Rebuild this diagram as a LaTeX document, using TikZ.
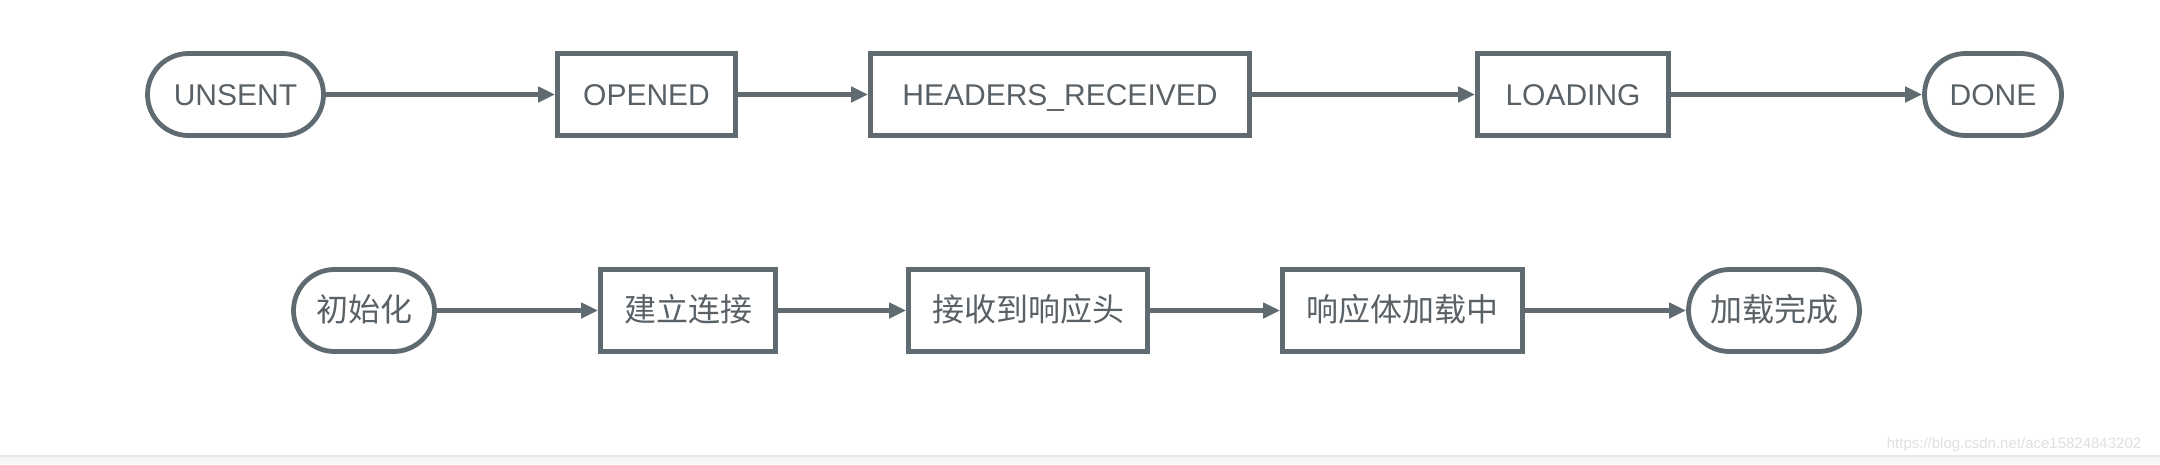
\documentclass[tikz,border=0pt]{standalone}
\usepackage{fontspec}
\setmainfont{Liberation Sans}
\newfontfamily\cjk{Noto Sans CJK SC}
\usetikzlibrary{arrows.meta}
\definecolor{edgec}{HTML}{5F6A71}
\definecolor{txtc}{HTML}{5A6166}
\definecolor{bandc}{HTML}{F6F6F6}
\definecolor{bandl}{HTML}{E8E8E8}
\definecolor{wmc}{HTML}{E0E0E0}
\begin{document}
\begin{tikzpicture}[x=1pt,y=-1pt,
  stepbox/.style={draw=edgec, line width=4.8pt, rectangle, minimum height=82pt, inner sep=0pt, text=txtc, font=\fontsize{30}{30}\selectfont, text height=21.5pt, text depth=0pt},
  termbox/.style={stepbox, rounded corners=41pt},
  cjkstep/.style={stepbox, font=\cjk\fontsize{32}{32}\selectfont, text height=25pt, text depth=3pt},
  cjkterm/.style={termbox, font=\cjk\fontsize{32}{32}\selectfont, text height=25pt, text depth=3pt},
  flow/.style={draw=edgec, line width=4.8pt, -{Triangle[length=17pt,width=15pt]}}]
\useasboundingbox (0,0) rectangle (2160,464);
\fill[white] (0,0) rectangle (2160,464);
\fill[bandc] (0,456) rectangle (2160,464);
\draw[bandl, line width=1.5pt] (0,456) -- (2160,456);
\node[text=wmc, font=\fontsize{15}{15}\selectfont] (wm) at (2014,445) {https://blog.csdn.net/ace15824843202};
% top row
\node[termbox, minimum width=176pt] (unsent) at (235.5,94.5) {UNSENT};
\node[stepbox, minimum width=178pt] (opened) at (646.5,94.5) {OPENED};
\node[stepbox, minimum width=379pt] (headers) at (1060,94.5) {HEADERS\_RECEIVED};
\node[stepbox, minimum width=191pt] (loading) at (1573,94.5) {LOADING};
\node[termbox, minimum width=137pt] (done) at (1993,94.5) {DONE};
% bottom row
\node[cjkterm, minimum width=141pt] (init) at (364,310.5) {初始化};
\node[cjkstep, minimum width=175pt] (conn) at (688,310.5) {建立连接};
\node[cjkstep, minimum width=239pt] (recv) at (1028,310.5) {接收到响应头};
\node[cjkstep, minimum width=240pt] (body) at (1402.5,310.5) {响应体加载中};
\node[cjkterm, minimum width=171pt] (fin) at (1774,310.5) {加载完成};
% connectors
\draw[flow] (unsent) -- (opened);
\draw[flow] (opened) -- (headers);
\draw[flow] (headers) -- (loading);
\draw[flow] (loading) -- (done);
\draw[flow] (init) -- (conn);
\draw[flow] (conn) -- (recv);
\draw[flow] (recv) -- (body);
\draw[flow] (body) -- (fin);
\end{tikzpicture}
\end{document}
